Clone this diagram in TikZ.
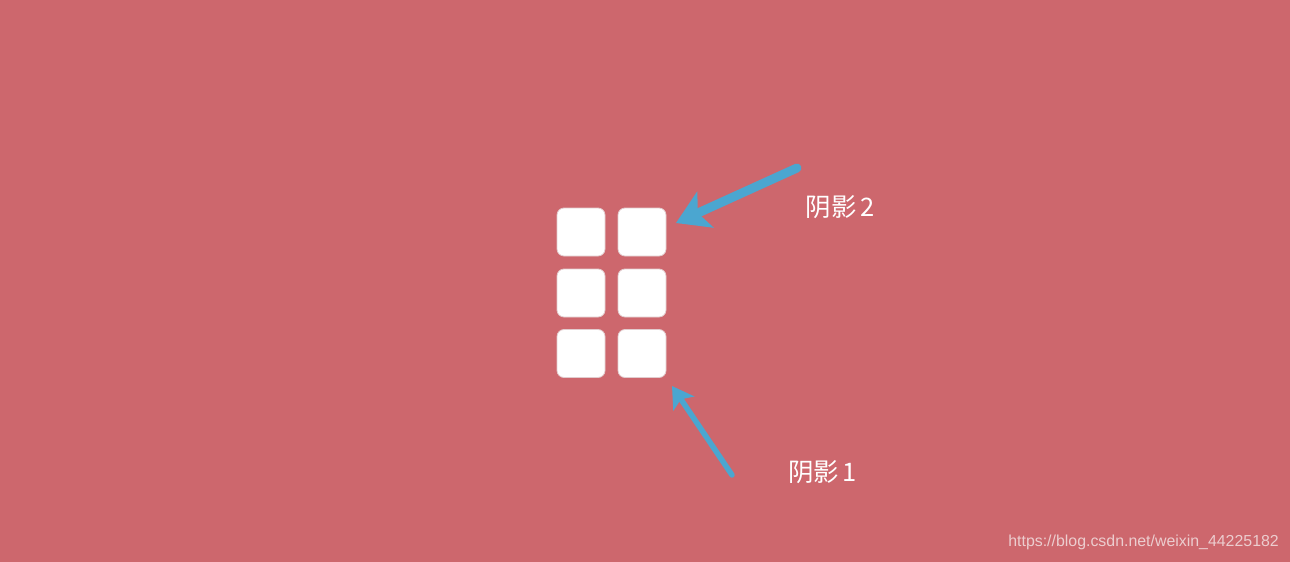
\documentclass[tikz,border=0pt]{standalone}
\usepackage{fontspec}
\newfontfamily\cjk{Noto Sans CJK SC}
\newfontfamily\wmfont{Liberation Sans}
\usetikzlibrary{arrows.meta}
\definecolor{bgred}{RGB}{205,103,109}
\definecolor{arrowblue}{RGB}{75,166,208}
\definecolor{tileedge}{RGB}{226,204,206}
\definecolor{wmgray}{RGB}{236,205,207}

\begin{document}
\begin{tikzpicture}[x=1pt,y=-1pt,
  tile/.style={fill=white, draw=tileedge, line width=0.8pt, rounded corners=7pt, minimum size=48pt, inner sep=0pt, outer sep=0pt},
  label/.style={text=white, font=\cjk\fontsize{25.5}{25.5}\selectfont, inner sep=0pt},
  pointer/.style={draw=arrowblue, line cap=round}]
\fill[bgred] (0,0) rectangle (1290,562);
\useasboundingbox (0,0) rectangle (1290,562);

\node[tile] (t11) at (581,232) {};
\node[tile] (t12) at (642,232) {};
\node[tile] (t21) at (581,293) {};
\node[tile] (t22) at (642,293) {};
\node[tile] (t31) at (581,353.5) {};
\node[tile] (t32) at (642,353.5) {};

\node[label] (shadow2) at (840.5,207) {阴影\hspace{4pt}2};
\node[label] (shadow1) at (822.5,472) {阴影\hspace{3pt}1};

\coordinate (tail2) at (797,168);
\coordinate (tip2) at (676,223);
\coordinate (tail1) at (732,475);
\coordinate (tip1) at (672,386);

\draw[pointer, line width=9pt, -{Stealth[length=32pt, width=39pt, inset=8pt]}] (tail2) -- (tip2);
\draw[pointer, line width=5.5pt, -{Stealth[length=21pt, width=25pt, inset=5pt]}] (tail1) -- (tip1);

\node[text=wmgray, font=\wmfont\fontsize{15.9}{15.9}\selectfont, anchor=east, inner sep=0pt] (mark) at (1279,542) {https://blog.csdn.net/weixin\_44225182};
\end{tikzpicture}
\end{document}
